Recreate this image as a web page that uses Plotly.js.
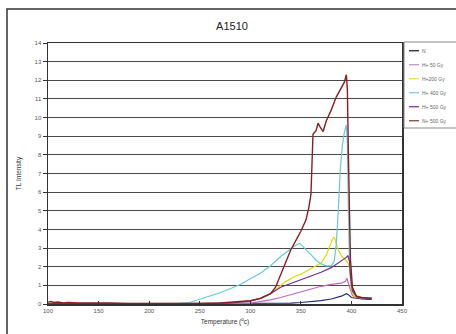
<!DOCTYPE html>
<html><head><meta charset="utf-8">
<script src="https://cdn.plot.ly/plotly-3.0.1.min.js"></script>
<style>html,body{margin:0;padding:0;background:#fff;}#chart{width:456px;height:334px;}</style>
</head><body><div id="chart"></div>
<script>
var chartTitle = "A1510";
var xTitle = "Temperature (<sup>o</sup>c)";
var yTitle = "TL Intensity";
var seriesNames = ["N", "H+ 50 Gy", "H+200 Gy", "H+ 400 Gy", "H+ 500 Gy", "N+ 500 Gy"];
var lineColors = ["#1f2a78", "#c266c2", "#e3da00", "#66cbd6", "#6f2d96", "#8b1e22"];
var legendColors = ["#333366", "#cc99cc", "#e8e060", "#88d4dc", "#8844aa", "#885555"];

var tN = [100,200,300,320,330,340,350,360,370,380,390,395,397,400,405,410,420];
var yN = [0.01,0.01,0.01,0.02,0.03,0.05,0.08,0.12,0.18,0.27,0.42,0.55,0.5,0.35,0.3,0.27,0.25];

var tH50 = [100,200,280,300,310,320,330,340,350,360,370,380,390,394,395.5,397,399,401,405,410,420];
var yH50 = [0.02,0.01,0.02,0.05,0.12,0.22,0.35,0.5,0.65,0.8,0.95,1.05,1.12,1.2,1.38,1.1,0.7,0.45,0.35,0.32,0.3];

var tH200 = [100,150,200,250,270,280,290,300,310,320,325,330,335,340,345,350,355,360,365,370,375,378,381,383,385,387,390,393,396,398,399,400,403,410,420];
var yH200 = [0.02,0.01,0.01,0.01,0.03,0.06,0.1,0.17,0.3,0.55,0.8,1.0,1.2,1.35,1.5,1.6,1.75,1.9,2.05,2.2,2.6,3.0,3.45,3.6,3.3,2.9,2.6,2.4,2.25,2.0,1.2,0.7,0.4,0.33,0.3];

var tH400 = [100,150,200,230,240,250,260,270,280,290,300,310,320,330,340,345,349,352,355,360,365,370,375,380,383,385,387,389,391,393,395,396,397,398,400,403,410,420];
var yH400 = [0.03,0.02,0.01,0.02,0.08,0.25,0.42,0.6,0.82,1.05,1.35,1.65,2.05,2.55,2.95,3.15,3.25,3.1,2.95,2.65,2.35,2.15,2.05,2.05,2.3,3.2,5.0,7.2,8.5,9.2,9.6,8.6,5.0,2.4,1.0,0.5,0.35,0.3];

var tH500 = [100,200,260,280,300,310,320,330,340,350,360,370,380,390,395,396.5,398,399,401,405,410,420];
var yH500 = [0.02,0.01,0.02,0.05,0.15,0.3,0.55,0.9,1.1,1.3,1.5,1.7,1.95,2.3,2.5,2.6,2.3,1.5,0.7,0.4,0.33,0.3];

var tN500 = [100,103,106,110,115,120,130,140,150,160,180,200,230,250,270,280,290,300,310,315,320,325,330,335,340,345,350,355,358,360,361,362,365,367,369,372,375,380,385,390,393,395,396,397,398,399,401,405,410,420];
var yN500 = [0.1,0.13,0.08,0.11,0.06,0.08,0.05,0.06,0.04,0.05,0.03,0.02,0.02,0.03,0.05,0.08,0.12,0.18,0.3,0.42,0.55,0.9,1.6,2.3,2.9,3.4,3.9,4.5,5.2,5.9,7.5,9.1,9.3,9.7,9.5,9.25,9.8,10.4,11.1,11.65,11.9,12.3,11.5,8.0,4.3,2.4,0.9,0.4,0.35,0.3];

var xs = [tN, tH50, tH200, tH400, tH500, tN500];
var ys = [yN, yH50, yH200, yH400, yH500, yN500];

var W = 456, H = 334, ML = 48, MR = 54, MT = 43, MB = 30;
var PW = W - ML - MR, PH = H - MT - MB;
function px(x){ return (x - ML) / PW; }
function py(y){ return (H - MB - y) / PH; }

var traces = seriesNames.map(function(n, i){
  return {x: xs[i], y: ys[i], name: n, type: 'scatter', mode: 'lines',
          line: {color: lineColors[i], width: (i === 5 ? 1.4 : 1.2)}, showlegend: false, hoverinfo: 'skip'};
});

var shapes = [
  {type:'rect', xref:'paper', yref:'paper', x0:px(7), x1:px(462), y0:py(340), y1:py(9),
   line:{color:'#333', width:1.5}, fillcolor:'rgba(0,0,0,0)', layer:'below'},
  {type:'rect', xref:'paper', yref:'paper', x0:px(404), x1:px(462), y0:py(128), y1:py(42),
   line:{color:'#888', width:1}, fillcolor:'#fff'}
];
var annotations = [];
seriesNames.forEach(function(n, i){
  var yy = 50.7 + i * 14;
  shapes.push({type:'line', xref:'paper', yref:'paper', x0:px(409), x1:px(419), y0:py(yy), y1:py(yy),
    line:{color:legendColors[i], width:1.4}});
  annotations.push({xref:'paper', yref:'paper', x:px(420), y:py(yy), xanchor:'left', yanchor:'middle',
    text:n, showarrow:false, font:{size:5, color:'#666', family:'Liberation Sans, Arial, sans-serif'}});
});

var layout = {
  width: W, height: H,
  margin: {l: ML, r: MR, t: MT, b: MB, pad: 0},
  paper_bgcolor: '#fff', plot_bgcolor: '#fff',
  font: {family: 'Liberation Sans, Arial, sans-serif', color: '#444'},
  title: {text: chartTitle, x: 232/456, xref: 'container', xanchor: 'center', y: 1 - 26/334, yref: 'container', yanchor: 'middle',
          font: {size: 11, color: '#222', family: 'Liberation Sans, Arial, sans-serif'}},
  xaxis: {range: [100, 450], tickmode: 'linear', tick0: 100, dtick: 50, showgrid: false, zeroline: false,
          showline: true, linecolor: '#333', linewidth: 1.5, mirror: true,
          ticks: 'inside', ticklen: 3, tickcolor: '#333', tickfont: {size: 6, color: '#555'},
          title: {text: xTitle, font: {size: 6.5, color: '#333'}, standoff: 6}},
  yaxis: {range: [0, 14], tickmode: 'linear', tick0: 0, dtick: 1, showgrid: true, gridcolor: '#4a4a4a', gridwidth: 1,
          zeroline: false, showline: true, linecolor: '#333', linewidth: 1.5, mirror: true,
          ticks: 'outside', ticklen: 4, tickcolor: '#333', tickfont: {size: 6, color: '#555'},
          title: {text: yTitle, font: {size: 6.5, color: '#333'}, standoff: 12}},
  shapes: shapes,
  annotations: annotations,
  showlegend: false
};
Plotly.newPlot('chart', traces, layout, {staticPlot: true, displayModeBar: false});
</script></body></html>
